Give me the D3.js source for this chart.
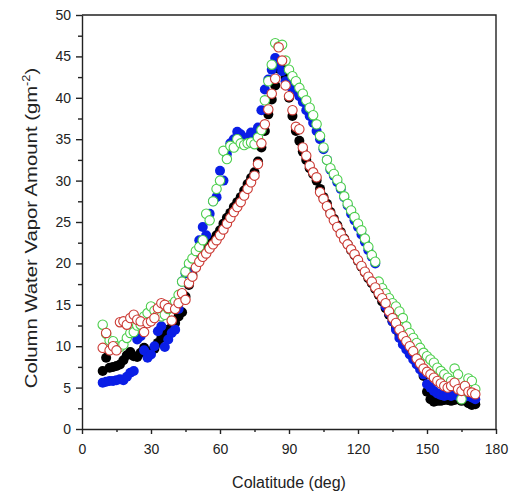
<!DOCTYPE html>
<html>
<head>
<meta charset="utf-8">
<script src="https://cdn.jsdelivr.net/npm/d3@7"></script>
<style>
  body { margin: 0; background: #fff; }
  svg { font-family: "Liberation Sans", Arial, sans-serif; }
  .axis path, .axis line { stroke: #222; stroke-width: 1.4; }
  .axis text { font-size: 14px; fill: #222; }
</style>
</head>
<body>
<div id="chart"></div>
<script>

// Colatitude of each sample (deg)
var colat = [9, 10.5, 12, 13.5, 15, 16.5, 18, 19.5, 21, 22.5,
  24, 25.5, 27, 28.5, 30, 31.5, 33, 34.5, 36, 37.5,
  39, 40.5, 42, 43.5, 45, 46.5, 48, 49.5, 51, 52.5,
  54, 55.5, 57, 58.5, 60, 61.5, 63, 64.5, 66, 67.5,
  69, 70.5, 72, 73.5, 75, 76.5, 78, 79.5, 81, 82.5,
  84, 85.5, 87, 88.5, 90, 91.5, 93, 94.5, 96, 97.5,
  99, 100.5, 102, 103.5, 105, 106.5, 108, 109.5, 111, 112.5,
  114, 115.5, 117, 118.5, 120, 121.5, 123, 124.5, 126, 127.5,
  129, 130.5, 132, 133.5, 135, 136.5, 138, 139.5, 141, 142.5,
  144, 145.5, 147, 148.5, 150, 151.5, 153, 154.5, 156, 157.5,
  159, 160.5, 162, 163.5, 165, 166.5, 168, 169.5, 171];

// Column water vapor (gm^-2), one array per series
var blackVals = [7.0, 8.6, 7.4, 7.5, 7.6, 7.8, 8.3, 8.9, 9.3, 8.8,
  8.7, 9.2, 9.8, 8.8, 9.4, 9.7, 10.4, 11.0, 11.6, 12.0,
  12.3, 12.8, 13.6, 14.1, 16.0, 17.4, 18.6, 19.6, 20.4, 21.0,
  21.6, 22.2, 22.8, 23.4, 24.0, 24.8, 25.5, 26.1, 26.8, 27.4,
  28.0, 28.8, 29.6, 30.3, 31.0, 32.3, 34.0, 36.0, 38.0, 39.8,
  41.5, 43.5, 44.0, 42.5, 40.0, 37.8, 36.0, 34.8, 33.5, 32.5,
  31.5, 30.8, 30.0, 29.0, 28.0, 27.2, 26.2, 25.4, 24.6, 23.8,
  23.0, 22.3, 21.6, 21.0, 20.3, 19.6, 18.9, 18.2, 17.6, 16.9,
  16.2, 15.4, 14.6, 13.8, 13.0, 12.2, 11.4, 10.8, 10.2, 9.5,
  8.9, 8.3, 7.6, 6.4, 4.5, 3.6, 3.3, 3.4, 3.4, 3.5,
  3.5, 3.4, 3.5, 3.6, 3.4, 3.5, 3.1, 2.9, 3.0];

var blueVals = [5.6, 5.7, 5.8, 5.8, 5.9, 6.0, 5.9, 6.3, 6.8, 7.0,
  10.8, 11.2, 9.5, 8.6, 9.0, 10.0, 11.8, 12.4, 9.9, 10.8,
  11.6, 12.0, 14.5, 17.8, 18.8, 19.4, 19.6, 21.2, 22.8, 24.4,
  23.4, 26.0, 27.5, 28.0, 31.2, 30.0, 33.2, 34.5, 35.0, 35.9,
  35.6, 35.0, 35.2, 35.8, 35.5, 36.4, 38.5, 41.0, 42.2, 43.4,
  44.8, 44.0, 43.2, 42.0, 41.5, 41.0, 40.8, 40.2, 39.5, 38.5,
  37.8, 37.0, 36.0, 35.0, 33.8, 32.5, 31.3, 30.6, 29.8, 29.0,
  28.0, 27.0, 26.0, 25.2, 24.4, 23.5, 22.6, 21.6, 20.8, 20.0,
  17.5, 15.8, 14.8, 14.0, 13.0, 12.0, 11.0, 10.2, 9.6, 9.0,
  8.4, 7.8, 7.2, 6.6, 5.4, 5.0, 4.6, 4.3, 4.1, 4.0,
  4.1, 4.0, 4.2, 4.0, 3.8, 3.9, 4.0, 3.8, 3.6];

var greenVals = [12.6, 11.5, 10.7, 10.6, 10.0, 9.9, 10.2, 11.0, 11.6, 11.7,
  12.5, 12.6, 13.6, 14.0, 14.8, 14.3, 13.8, 13.6, 13.8, 14.5,
  15.0, 15.4, 16.2, 17.8, 19.0, 20.0, 20.6, 21.5, 22.0, 22.8,
  26.0, 25.2, 27.5, 29.0, 30.0, 33.6, 32.6, 34.2, 34.0, 35.0,
  34.5, 34.3, 34.5, 34.6, 34.4, 35.2, 36.1, 39.7, 42.0, 44.0,
  46.6, 46.2, 46.4, 44.5, 43.4, 42.6, 42.0, 41.2, 40.5, 39.7,
  38.8, 37.9, 36.8, 35.4, 34.0, 32.5, 31.5, 30.8, 30.1, 29.2,
  28.1, 27.2, 26.4, 25.6, 24.8, 24.0, 23.0, 22.0, 21.0, 20.2,
  17.8, 17.0, 16.4, 15.8, 15.2, 14.8, 14.2, 13.4, 12.4, 11.6,
  11.0, 10.4, 9.8, 9.2, 8.8, 8.4, 8.0, 7.4, 7.0, 6.6,
  6.2, 5.8, 7.3, 6.6, 3.6, 5.2, 6.1, 5.8, 4.8];

var redVals = [9.8, 11.6, 9.5, 10.0, 9.5, 12.9, 13.0, 12.6, 13.4, 13.8,
  13.2, 13.0, 11.7, 12.8, 13.0, 13.4, 14.6, 15.2, 15.0, 14.6,
  13.1, 14.5, 15.2, 16.4, 15.6, 17.6, 18.4, 19.5, 20.2, 20.8,
  21.2, 21.8, 22.3, 22.8, 23.4, 24.1, 24.8, 25.5, 26.2, 26.8,
  27.4, 28.2, 29.0, 29.8, 30.6, 32.0, 34.5, 36.8, 38.6, 40.5,
  42.3, 46.1, 44.5, 41.5, 40.2, 38.5, 36.5, 36.2, 34.0, 33.0,
  31.8, 31.0, 30.4, 28.6, 27.8, 26.9, 26.0, 25.2, 24.4, 23.6,
  22.9, 22.3, 21.7, 21.1, 20.4, 19.7, 19.0, 18.4, 17.8, 17.1,
  16.4, 15.8, 15.2, 14.2, 13.4, 12.8, 12.0, 11.2, 10.6, 10.0,
  9.4, 8.5, 7.9, 7.3, 6.9, 6.6, 6.2, 5.8, 5.5, 5.2,
  5.0, 5.2, 5.6, 4.8, 4.6, 5.2, 4.5, 4.4, 4.2];

// Axis tick values
var xTicks = [0, 30, 60, 90, 120, 150, 180];
var yTicks = [0, 5, 10, 15, 20, 25, 30, 35, 40, 45, 50];

// Series in drawing order: filled first, open circles on top
var series = [
  {vals: blackVals, color: "#000000", open: false},
  {vals: blueVals,  color: "#0a1ee6", open: false},
  {vals: greenVals, color: "#4ccf4c", open: true},
  {vals: redVals,   color: "#cc3b35", open: true}
];

var svg = d3.select("#chart").append("svg")
    .attr("width", 522)
    .attr("height", 495),
    margin = {top: 15, right: 26, bottom: 66, left: 82},
    width = 522 - margin.left - margin.right,
    height = 495 - margin.top - margin.bottom,
    g = svg.append("g").attr("transform", "translate(" + margin.left + "," + margin.top + ")");

var x = d3.scaleLinear().domain([0, 180]).range([0, width]);
var y = d3.scaleLinear().domain([0, 50]).range([height, 0]);

// Points
series.forEach(function(s) {
  g.append("g")
    .selectAll("circle")
    .data(s.vals)
    .enter().append("circle")
      .attr("cx", function(d, i) { return x(colat[i]); })
      .attr("cy", function(d) { return y(d); })
      .attr("r", s.open ? 4.7 : 5)
      .attr("fill", s.open ? "#fff" : s.color)
      .attr("stroke", s.open ? s.color : "none")
      .attr("stroke-width", 1.1);
});

// Minor ticks
g.append("g")
    .attr("class", "axis")
    .attr("transform", "translate(0," + height + ")")
    .call(d3.axisBottom(x).tickValues([15, 45, 75, 105, 135, 165]).tickSize(3).tickFormat(""))
    .select(".domain").remove();

g.append("g")
    .attr("class", "axis")
    .call(d3.axisLeft(y).tickValues(d3.range(2.5, 50, 5)).tickSize(4).tickFormat(""))
    .select(".domain").remove();

// Major ticks and labels
g.append("g")
    .attr("class", "axis axis--x")
    .attr("transform", "translate(0," + height + ")")
    .call(d3.axisBottom(x).tickValues(xTicks).tickSize(5).tickSizeOuter(0).tickPadding(10));

g.append("g")
    .attr("class", "axis axis--y")
    .call(d3.axisLeft(y).tickValues(yTicks).tickSize(6).tickSizeOuter(0).tickPadding(5));

// Frame on top and right
g.append("path")
    .attr("d", "M0,0H" + width + "V" + height)
    .attr("fill", "none")
    .attr("stroke", "#222")
    .attr("stroke-width", 1.4);

// Axis titles
svg.append("text")
    .attr("x", margin.left + width / 2)
    .attr("y", 488)
    .attr("text-anchor", "middle")
    .attr("font-size", 16)
    .attr("fill", "#222")
    .text("Colatitude (deg)");

var yt = svg.append("text")
    .attr("transform", "translate(37,228) rotate(-90) scale(1.27,1)")
    .attr("text-anchor", "middle")
    .attr("font-size", 16)
    .attr("fill", "#222");
yt.append("tspan").text("Column Water Vapor Amount (gm");
yt.append("tspan").attr("font-size", 10).attr("dy", -7).text("-2");
yt.append("tspan").attr("dy", 7).text(")");

</script>
</body>
</html>
